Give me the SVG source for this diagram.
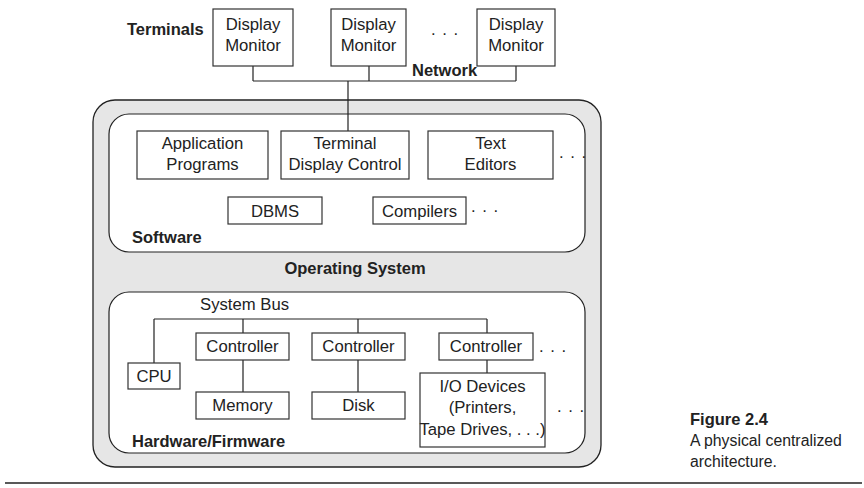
<svg xmlns="http://www.w3.org/2000/svg" width="864" height="488" viewBox="0 0 864 488">
<style>
text{font-family:"Liberation Sans",Arial,sans-serif;font-size:16.7px;fill:#222}
.b{font-weight:bold;font-size:16.5px}
.c{text-anchor:middle}
.cap{font-size:15.8px}
.box{fill:#fff;stroke:#333;stroke-width:1.2}
.ln{fill:none;stroke:#222;stroke-width:1.2}
</style>
<rect width="864" height="488" fill="#fff"/>
<g id="os">
<rect x="93" y="100" width="508" height="367" rx="22" fill="#e6e6e6" stroke="#222" stroke-width="1.3"/>
<text class="b c" x="355" y="274">Operating System</text>
</g>
<g id="software">
<rect x="109" y="114" width="476" height="138" rx="20" fill="#fff" stroke="#222" stroke-width="1.2"/>
<text class="b" x="132" y="243">Software</text>
</g>
<g id="hardware">
<rect x="109" y="292" width="476" height="161" rx="20" fill="#fff" stroke="#222" stroke-width="1.2"/>
<text class="b" x="132" y="447">Hardware/Firmware</text>
<text x="200" y="310">System Bus</text>
</g>
<g id="connectors">
<path class="ln" d="M253 66V81M369 66V81M516 66V81M253 81H516M348 81V131"/>
<path class="ln" d="M154 319H487M154 319V363M243 319V333M358 319V333M487 319V333M243 360V392M358 360V392M487 360V373"/>
</g>
<text class="b" x="412" y="76">Network</text>
<text class="b" x="127" y="35">Terminals</text>
<g id="term1"><rect class="box" x="213" y="9" width="80" height="57"/><text class="c" x="253" y="30">Display</text><text class="c" x="253" y="51">Monitor</text></g>
<g id="term2"><rect class="box" x="331" y="9" width="75" height="57"/><text class="c" x="368.5" y="30">Display</text><text class="c" x="368.5" y="51">Monitor</text></g>
<text x="431" y="35" letter-spacing="1">. . .</text>
<g id="term3"><rect class="box" x="477" y="9" width="78" height="57"/><text class="c" x="516" y="30">Display</text><text class="c" x="516" y="51">Monitor</text></g>
<g id="app"><rect class="box" x="137" y="131" width="131" height="48"/><text class="c" x="202.5" y="149">Application</text><text class="c" x="202.5" y="170">Programs</text></g>
<g id="tdc"><rect class="box" x="281" y="131" width="128" height="48"/><text class="c" x="345" y="149">Terminal</text><text class="c" x="345" y="170">Display Control</text></g>
<g id="editors"><rect class="box" x="428" y="131" width="125" height="48"/><text class="c" x="490.5" y="149">Text</text><text class="c" x="490.5" y="170">Editors</text></g>
<text x="559" y="158" letter-spacing="1">. . .</text>
<g id="dbms"><rect class="box" x="228" y="197" width="94" height="27"/><text class="c" x="275" y="217">DBMS</text></g>
<g id="compilers"><rect class="box" x="373" y="197" width="93" height="27"/><text class="c" x="419.5" y="217">Compilers</text></g>
<text x="471" y="212" letter-spacing="1">. . .</text>
<g id="cpu"><rect class="box" x="128" y="363" width="52" height="26"/><text class="c" x="154" y="382">CPU</text></g>
<g id="ctrl1"><rect class="box" x="196" y="333" width="93" height="27"/><text class="c" x="242.5" y="352">Controller</text></g>
<g id="ctrl2"><rect class="box" x="312" y="333" width="93" height="27"/><text class="c" x="358.5" y="352">Controller</text></g>
<g id="ctrl3"><rect class="box" x="439" y="333" width="94" height="27"/><text class="c" x="486" y="352">Controller</text></g>
<text x="539" y="352" letter-spacing="1">. . .</text>
<g id="memory"><rect class="box" x="196" y="392" width="93" height="27"/><text class="c" x="242.5" y="411">Memory</text></g>
<g id="disk"><rect class="box" x="312" y="392" width="93" height="27"/><text class="c" x="358.5" y="411">Disk</text></g>
<g id="io"><rect class="box" x="420" y="373" width="125" height="74"/><text class="c" x="482.5" y="392">I/O Devices</text><text class="c" x="482.5" y="413">(Printers,</text><text class="c" x="482.5" y="435" font-size="15.8">Tape Drives, . . .)</text></g>
<text x="557" y="412" letter-spacing="1">. . .</text>
<g id="caption">
<text class="b" x="690" y="425">Figure 2.4</text>
<text class="cap" x="690" y="446">A physical centralized</text>
<text class="cap" x="690" y="467">architecture.</text>
</g>
<line x1="5" y1="483" x2="862" y2="483" stroke="#222" stroke-width="1.5"/>
</svg>
